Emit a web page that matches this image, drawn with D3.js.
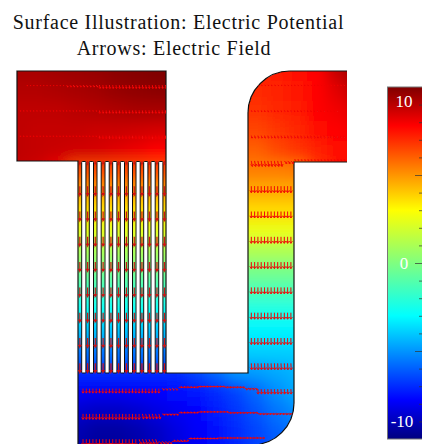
<!DOCTYPE html>
<html>
<head>
<meta charset="utf-8">
<script src="https://cdn.jsdelivr.net/npm/d3@7"></script>
<style>
  html, body { margin: 0; padding: 0; background: #fff; overflow: hidden; }
  svg { display: block; }
  text { font-family: "Liberation Serif", "Times New Roman", serif; }
</style>
</head>
<body>
<div id="chart"></div>
<script>
// Titles
const titleLines = ['Surface Illustration: Electric Potential', 'Arrows: Electric Field'];
const titleCentres = [178.5, 174];

// Colour bar
const jetStops = [-10, -7.8, -3, 3, 7.8, 10];
const jetColors = ['#00007f', '#0000ff', '#00ffff', '#ffff00', '#ff0000', '#7f0000'];
const barTicks = d3.range(-9, 10);
const barLabels = ['10', '0', '-10'];
const barLabelValues = [9.2, 0, -9];

// Potential, on a coarse grid (device units)
const gridU = [0, 2, 4, 6, 8, 10, 12, 14, 16, 18, 20, 22, 24, 26, 28, 30, 32, 34];
const gridV = [0, 2, 4, 6, 8, 10, 12, 14, 16, 18, 20, 22, 24, 26, 28, 30, 32, 34, 36, 38];
const potential = [
  [9.3, 9.3, 9.4, 9.5, 9.6, 9.8, 9.9, 10, 10, 9, 8, 7.4, 7.3, 7.3, 7.5, 7.8, 8.8, 9.8],
  [9.1, 9.1, 9.2, 9.3, 9.4, 9.6, 9.7, 9.8, 9.8, 8.5, 7.5, 7, 7, 7.2, 7.4, 7.8, 8.3, 9],
  [8.9, 8.9, 8.9, 9, 9.1, 9.2, 9.3, 9.3, 9.3, 8, 7.2, 6.9, 6.9, 7.1, 7.3, 7.7, 8, 8.4],
  [8.9, 8.8, 8.8, 8.8, 8.7, 8.7, 8.6, 8.5, 8.5, 7.5, 7, 6.5, 6.5, 6.8, 7.1, 7.5, 7.8, 8],
  [8.9, 8.8, 8.7, 8.6, 8.5, 8.3, 8.1, 7.8, 7.8, 7, 6.5, 6, 6, 6.4, 6.8, 7.2, 7.6, 7.8],
  [8.8, 8.6, 8, 6.4, 6.4, 6.4, 6.4, 6.4, 6.4, 6, 5.5, 5.4, 5.4, 5.4, 5.5, 6.8, 7.4, 7.6],
  [5, 5, 5, 5, 5, 5, 5, 5, 5, 4.8, 4.6, 4.6, 4.6, 4.6, 4.6, 4.6, 4.6, 4.6],
  [3.6, 3.6, 3.6, 3.6, 3.6, 3.6, 3.6, 3.6, 3.6, 3.6, 3.7, 3.7, 3.7, 3.7, 3.7, 3.7, 3.7, 3.7],
  [2.4, 2.4, 2.4, 2.4, 2.4, 2.4, 2.4, 2.4, 2.4, 2.4, 2.5, 2.5, 2.5, 2.5, 2.5, 2.5, 2.5, 2.5],
  [1, 1, 1, 1, 1, 1, 1, 1, 1, 1, 1.1, 1.1, 1.1, 1.1, 1.1, 1.1, 1.1, 1.1],
  [-0.3, -0.3, -0.3, -0.3, -0.3, -0.3, -0.3, -0.3, -0.3, -0.3, -0.2, -0.2, -0.2, -0.2, -0.2, -0.2, -0.2, -0.2],
  [-1.6, -1.6, -1.6, -1.6, -1.6, -1.6, -1.6, -1.6, -1.6, -1.5, -1.4, -1.3, -1.3, -1.3, -1.3, -1.3, -1.3, -1.3],
  [-2.9, -2.9, -2.9, -2.9, -2.9, -2.9, -2.9, -2.9, -2.9, -2.7, -2.5, -2.4, -2.4, -2.4, -2.4, -2.4, -2.4, -2.4],
  [-4.2, -4.2, -4.2, -4.2, -4.2, -4.2, -4.2, -4.2, -4.2, -3.8, -3.4, -3.2, -3.2, -3.2, -3.2, -3.2, -3.2, -3.2],
  [-5.6, -5.6, -5.6, -5.6, -5.6, -5.6, -5.6, -5.6, -5.6, -5, -4.3, -3.9, -3.9, -3.9, -3.9, -3.9, -3.9, -3.9],
  [-7, -7, -7, -7, -7, -7, -7, -7, -7, -6.5, -5.8, -5, -4.8, -4.6, -4.4, -4.4, -4.4, -4.4],
  [-7.9, -7.9, -7.9, -7.9, -8, -8, -7.9, -7.8, -7.6, -7.4, -7, -6.5, -5.8, -5.1, -4.6, -4.4, -4.4, -4.4],
  [-8.6, -8.6, -8.6, -8.6, -8.8, -8.8, -8.6, -8.3, -8, -7.7, -7.3, -6.8, -6.2, -5.6, -5.1, -4.9, -4.9, -4.9],
  [-9.1, -9.1, -9.1, -9.1, -9.4, -9.4, -9.2, -8.8, -8.3, -7.9, -7.5, -7, -6.5, -6, -5.6, -5.4, -5.4, -5.4],
  [-9.2, -9.2, -9.2, -9.2, -9.5, -9.5, -9.3, -8.9, -8.4, -8, -7.6, -7.1, -6.6, -6.1, -5.7, -5.5, -5.5, -5.5]
];

// Slots between the channels: left edges, width, top and bottom
const slotU = [6.47, 7.23, 8.0, 8.8, 9.57, 10.33, 11.13, 11.9, 12.67, 13.4, 14.17];
const slotWidth = 0.42;
const slotRange = [9.05, 30.2];

// Arrow rows and runs: row, from, to, du, dv, shift
const rowV = [1.4, 3.93, 6.46, 8.99, 11.52, 14.05, 16.58, 19.11, 21.64, 24.17, 26.7, 29.23, 31.76, 34.29, 36.82];
const arrowStep = 0.33;
const arrowRuns = [
  [0, 0.8, 4.8, 0.05, 0.08, 0], [0, 4.8, 8, 0.15, 0.2, 0], [0, 8, 14.9, 0.05, 0.35, 0],
  [1, 0.2, 8, 0.03, 0.1, 0], [1, 8, 14.9, 0.03, 0.3, 0],
  [2, 0.2, 8, 0.02, 0.12, 0], [2, 8, 14.9, 0.02, 0.3, 0],
  [3, 2.5, 6, 0.05, 0.05, 0],
  [0, 23.4, 32.9, 0.1, 0.06, 0], [1, 23.3, 33, 0.05, 0.15, 0], [2, 23.2, 33, 0.08, 0.25, 0],
  [3, 23.3, 26.5, 0.1, 0.55, 0], [3, 26.5, 27.6, 0.25, 0.25, 0], [3, 27.7, 33, 0.15, 0.03, -0.1],
  [4, 23.3, 27.5, 0, 0.65, 0], [5, 23.3, 27.5, 0, 0.65, 0], [6, 23.3, 27.5, 0, 0.65, 0],
  [7, 23.3, 27.5, 0, 0.65, 0], [8, 23.3, 27.5, 0, 0.65, 0], [9, 23.3, 27.5, 0, 0.65, 0],
  [10, 23.3, 27.5, 0, 0.65, 0], [11, 23.3, 27.5, 0.03, 0.65, 0],
  [12, 6.3, 14.5, 0, 0.45, 0], [12, 14.5, 16, 0.2, 0.2, -0.05], [12, 16, 18, 0.33, -0.03, -0.12],
  [12, 18, 20.5, 0.33, 0, -0.2], [12, 20.5, 22.5, 0.33, 0.03, -0.15], [12, 22.5, 24, 0.3, 0.15, -0.05],
  [12, 24, 27.5, 0.03, 0.5, 0.05],
  [13, 6.3, 12.5, 0, 0.55, 0], [13, 12.5, 14.5, 0.12, 0.5, 0], [13, 14.5, 16, 0.3, 0.1, 0],
  [13, 16, 18, 0.33, -0.04, -0.1], [13, 18, 21, 0.33, 0, -0.2], [13, 21, 24, 0.33, 0.02, -0.12], [13, 24, 27.5, 0.33, 0.05, -0.02],
  [14, 6.3, 12, 0, 0.6, 0], [14, 12, 14, 0.2, 0.55, 0], [14, 14, 15.5, 0.3, 0.3, 0.2], [14, 15.5, 17, 0.33, -0.12, 0.25],
  [14, 17, 20, 0.33, -0.03, -0.05], [14, 20, 24.5, 0.33, 0, -0.12]
];

// Channel arrows, one per channel on these rows: row, dv
const channelRows = [3, 4, 5, 6, 7, 8, 9, 10, 11];
const channelLengths = [0.3, 0.9, 0.9, 0.9, 0.9, 0.9, 0.9, 0.9, 0.9];

const width = 422, height = 444;
const svg = d3.select('#chart').append('svg').attr('width', width).attr('height', height);
const defs = svg.append('defs');

const x = d3.scaleLinear().domain([0, 33]).range([17, 347]);
const y = d3.scaleLinear().domain([0, 37.4]).range([71, 445]);
const color = d3.scaleLinear().domain(jetStops).range(jetColors);

// Device outline, open on the right where the arm is cut
function outline(closed) {
  const p = d3.path();
  p.moveTo(x(33), y(9.1));
  p.lineTo(x(27.7), y(9.1));
  p.arcTo(x(27.7), y(37.4), x(23.5), y(37.4), 42);
  p.lineTo(x(6.1), y(37.4));
  p.lineTo(x(6.1), y(9));
  p.lineTo(x(0), y(9));
  p.lineTo(x(0), y(0));
  p.lineTo(x(14.9), y(0));
  p.lineTo(x(14.9), y(30.2));
  p.lineTo(x(23.1), y(30.2));
  p.arcTo(x(23.1), y(0), x(33), y(0), 42);
  p.lineTo(x(33), y(0));
  if (closed) p.closePath();
  return p.toString();
}

defs.append('clipPath').attr('id', 'device').append('path').attr('d', outline(true));
defs.append('filter').attr('id', 'smooth')
  .attr('filterUnits', 'userSpaceOnUse')
  .attr('x', -60).attr('y', 0).attr('width', 540).attr('height', 540)
  .append('feGaussianBlur').attr('stdDeviation', 7);
defs.append('filter').attr('id', 'soft')
  .attr('filterUnits', 'userSpaceOnUse')
  .attr('x', 0).attr('y', 0).attr('width', width).attr('height', height)
  .append('feGaussianBlur').attr('stdDeviation', 0.35);

// Surface
const surface = svg.append('g').attr('clip-path', 'url(#device)')
  .append('g').attr('filter', 'url(#smooth)');
potential.forEach((row, j) => {
  surface.selectAll(null)
    .data(row)
    .enter()
    .append('rect')
    .attr('x', (d, i) => x(gridU[i] - 1) - (i === 0 ? 40 : 0))
    .attr('y', y(gridV[j] - 1) - (j === 0 ? 40 : 0))
    .attr('width', (d, i) => x(2) - x(0) + 0.5 + (i === 0 || i === row.length - 1 ? 40 : 0))
    .attr('height', y(2) - y(0) + 0.5 + (j === 0 || j === potential.length - 1 ? 40 : 0))
    .attr('fill', d => color(d))
    .attr('shape-rendering', 'crispEdges');
});

// Slots
const lines = svg.append('g').attr('filter', 'url(#soft)');
lines.selectAll('rect.slot')
  .data(slotU)
  .enter()
  .append('rect')
  .attr('class', 'slot')
  .attr('x', d => x(d))
  .attr('y', y(slotRange[0]))
  .attr('width', x(slotWidth) - x(0))
  .attr('height', y(slotRange[1]) - y(slotRange[0]))
  .attr('rx', 0.8)
  .attr('fill', '#fff')
  .attr('stroke', '#111')
  .attr('stroke-width', 1);

lines.append('path')
  .attr('d', outline(false))
  .attr('fill', 'none')
  .attr('stroke', '#111')
  .attr('stroke-width', 1.2);

// Arrows
function arrowPath(u, v, du, dv) {
  const x0 = x(u), y0 = y(v), x1 = x(u + du), y1 = y(v + dv);
  const len = Math.hypot(x1 - x0, y1 - y0);
  if (len === 0) return '';
  const head = Math.min(2.6, len * 0.45);
  const a = Math.atan2(y1 - y0, x1 - x0);
  const wing = s => `L${x1 - head * Math.cos(a + s * 0.6)},${y1 - head * Math.sin(a + s * 0.6)}`;
  return `M${x0},${y0}L${x1},${y1}${wing(1)}M${x1},${y1}${wing(-1)}`;
}

const arrows = [];
arrowRuns.forEach(([row, from, to, du, dv, shift]) => {
  const first = Math.ceil(from / arrowStep);
  for (let k = first; k * arrowStep < to; k++) {
    arrows.push({ u: k * arrowStep, v: rowV[row] + shift, du, dv });
  }
});

const arrowLayer = svg.append('g').attr('clip-path', 'url(#device)').attr('filter', 'url(#soft)');
arrowLayer.selectAll('path.arrow')
  .data(arrows)
  .enter()
  .append('path')
  .attr('class', 'arrow')
  .attr('d', d => arrowPath(d.u, d.v, d.du, d.dv))
  .attr('fill', 'none')
  .attr('stroke', '#f00808')
  .attr('stroke-width', 1);

// One arrow down the middle of each channel
const channelEdges = [6.1, ...slotU.map(d => d + slotWidth)];
const channelEnds = [...slotU, 14.9];
const channelU = channelEdges.map((d, i) => (d + channelEnds[i]) / 2);
const channelArrows = channelRows.flatMap((row, i) =>
  channelU.map(u => ({ u, v: rowV[row], dv: channelLengths[i] })));

svg.append('g').attr('filter', 'url(#soft)')
  .selectAll('path.channel-arrow')
  .data(channelArrows)
  .enter()
  .append('path')
  .attr('class', 'channel-arrow')
  .attr('d', d => arrowPath(d.u, d.v, 0, d.dv))
  .attr('fill', 'none')
  .attr('stroke', '#d01212')
  .attr('stroke-width', 1.2);

// Colour bar
const barScale = d3.scaleLinear().domain([-10, 10]).range([439, 87]);
const barLeft = 387.5, barRight = 422;
const gradient = defs.append('linearGradient').attr('id', 'jet')
  .attr('gradientUnits', 'userSpaceOnUse')
  .attr('x1', 0).attr('x2', 0).attr('y1', barScale(-10)).attr('y2', barScale(10));
gradient.selectAll('stop')
  .data(jetStops)
  .enter()
  .append('stop')
  .attr('offset', d => (d + 10) / 20)
  .attr('stop-color', d => color(d));

svg.append('rect')
  .attr('x', barLeft)
  .attr('y', barScale(10))
  .attr('width', barRight - barLeft + 2)
  .attr('height', barScale(-10) - barScale(10))
  .attr('fill', 'url(#jet)')
  .attr('stroke', '#777')
  .attr('stroke-width', 1);

const barAxis = svg.append('g')
  .attr('transform', `translate(${barRight},0)`)
  .call(d3.axisLeft(barScale).tickValues(barTicks).tickFormat('').tickSize(3));
barAxis.select('.domain').remove();
barAxis.selectAll('.tick line')
  .attr('x2', d => (d % 5 === 0 ? -7 : -3))
  .attr('stroke', '#333')
  .attr('stroke-opacity', 0.7);

svg.selectAll('text.bar-label')
  .data(barLabels)
  .enter()
  .append('text')
  .attr('class', 'bar-label')
  .attr('x', (d, i) => (i === 2 ? 402 : 404))
  .attr('y', (d, i) => barScale(barLabelValues[i]))
  .attr('dy', '0.35em')
  .attr('text-anchor', 'middle')
  .attr('font-size', 17)
  .attr('fill', '#fff')
  .text(d => d);

// Titles
svg.selectAll('text.title')
  .data(titleLines)
  .enter()
  .append('text')
  .attr('class', 'title')
  .attr('x', (d, i) => titleCentres[i])
  .attr('y', (d, i) => 29 + i * 26)
  .attr('text-anchor', 'middle')
  .attr('font-size', 20)
  .attr('letter-spacing', 0.72)
  .attr('fill', '#111')
  .text(d => d);
</script>
</body>
</html>
